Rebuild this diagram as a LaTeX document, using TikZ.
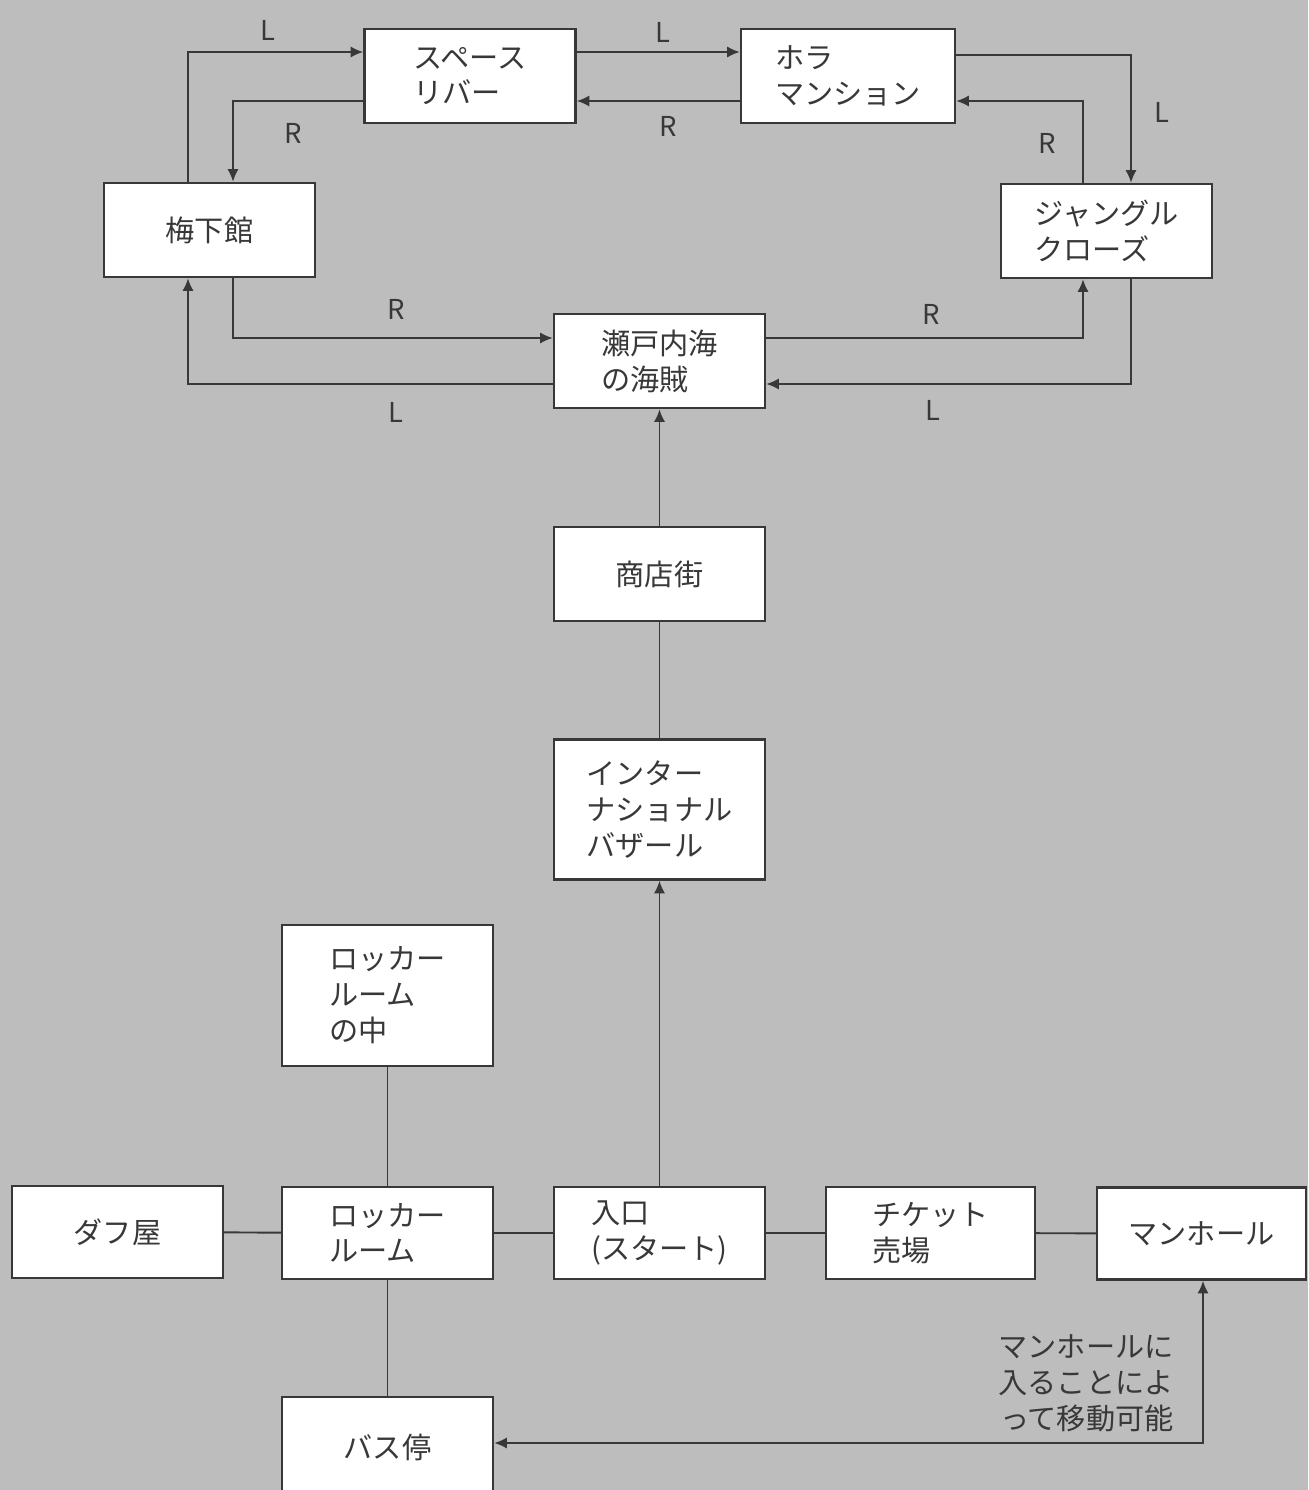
\documentclass[tikz,border=0pt]{standalone}
\usepackage{fontspec}
\setmainfont{Noto Sans CJK JP}
\usetikzlibrary{arrows.meta}
\definecolor{paper}{HTML}{BDBDBD}
\definecolor{ink}{HTML}{383838}
\newcommand{\roomfont}{\fontsize{8.3}{10.2}\selectfont}
\newcommand{\lrfont}{\fontsize{7.8}{9}\selectfont}

\begin{document}
\begin{tikzpicture}[
  room/.style={draw=ink,line width=0.7pt,fill=white,minimum width=2.11cm,minimum height=0.94cm,
    inner sep=0pt,align=left,font=\roomfont,text=ink},
  tallroom/.style={room,minimum height=1.40cm},
  lr/.style={font=\lrfont,text=ink},
  link/.style={ink,line width=0.55pt},
  arr/.style={link,-{Latex[length=3.6pt,width=3.2pt]}},
  both/.style={link,{Latex[length=3.6pt,width=3.2pt]}-{Latex[length=3.6pt,width=3.2pt]}}]
  \useasboundingbox (0,0) rectangle (13.08,-14.90);
  \fill[paper] (0,0) rectangle (13.08,-14.90);

  % upper ring
  \node[room] (space) at (4.70,-0.76) {スペース\\リバー};
  \node[room,minimum width=2.14cm] (hora) at (8.48,-0.76) {ホラ\\マンション};
  \node[room] (ume) at (2.095,-2.30) {梅下館};
  \node[room] (jungle) at (11.065,-2.31) {ジャングル\\クローズ};
  \node[room] (seto) at (6.595,-3.61) {瀬戸内海\\の海賊};

  % middle column
  \node[room] (shop) at (6.595,-5.74) {商店街};
  \node[tallroom] (bazar) at (6.595,-8.095) {インター\\ナショナル\\バザール};

  % bottom row
  \node[tallroom,minimum height=1.41cm] (lockin) at (3.875,-9.955) {ロッカー\\ルーム\\の中};
  \node[room,minimum height=0.92cm] (dafu) at (1.175,-12.32) {ダフ屋};
  \node[room,minimum height=0.92cm] (locker) at (3.875,-12.33) {ロッカー\\ルーム};
  \node[room,minimum height=0.92cm] (entry) at (6.595,-12.33) {入口\\(スタート)};
  \node[room,minimum height=0.92cm,minimum width=2.09cm] (ticket) at (9.305,-12.33) {チケット\\売場};
  \node[room,minimum height=0.92cm,minimum width=2.09cm] (manhole) at (12.015,-12.335) {マンホール};
  \node[room,minimum height=1.00cm] (bus) at (3.875,-14.47) {バス停};

  % ring connectors
  \draw[arr] ([xshift=-0.215cm]ume.north) |- ([yshift=0.24cm]space.west);
  \draw[arr] ([yshift=-0.25cm]space.west) -| ([xshift=0.235cm]ume.north);
  \draw[arr] ([yshift=0.24cm]space.east) -- ([yshift=0.24cm]hora.west);
  \draw[arr] ([yshift=-0.25cm]hora.west) -- ([yshift=-0.25cm]space.east);
  \draw[arr] ([yshift=0.21cm]hora.east) -| ([xshift=0.245cm]jungle.north);
  \draw[arr] ([xshift=-0.235cm]jungle.north) |- ([yshift=-0.25cm]hora.east);
  \draw[arr] ([xshift=0.235cm]ume.south) |- ([yshift=0.23cm]seto.west);
  \draw[arr] ([yshift=-0.23cm]seto.west) -| ([xshift=-0.215cm]ume.south);
  \draw[arr] ([yshift=0.23cm]seto.east) -| ([xshift=-0.235cm]jungle.south);
  \draw[arr] ([xshift=0.245cm]jungle.south) |- ([yshift=-0.23cm]seto.east);

  \node[lr] (l1) at (2.68,-0.30) {L};
  \node[lr] (r1) at (2.93,-1.33) {R};
  \node[lr] (l2) at (6.63,-0.32) {L};
  \node[lr] (r2) at (6.68,-1.26) {R};
  \node[lr] (l3) at (11.62,-1.12) {L};
  \node[lr] (r3) at (10.47,-1.43) {R};
  \node[lr] (r4) at (3.96,-3.09) {R};
  \node[lr] (l4) at (3.96,-4.12) {L};
  \node[lr] (r5) at (9.31,-3.14) {R};
  \node[lr] (l5) at (9.33,-4.10) {L};

  % column
  \draw[arr] (shop) -- (seto);
  \draw[link] (bazar) -- (shop);
  \draw[arr] (entry) -- (bazar);

  % row
  \draw[link] (dafu) -- (locker);
  \draw[link] (locker) -- (entry);
  \draw[link] (entry) -- (ticket);
  \draw[link] (ticket) -- (manhole);
  \draw[link] (lockin) -- (locker);
  \draw[link] (locker) -- (bus);
  \draw[both] ([yshift=0.04cm]bus.east) -| ([xshift=0.015cm]manhole.south);

  \node[font=\roomfont,text=ink,align=right,anchor=east] (note) at (11.86,-13.83)
    {マンホールに\\入ることによ\\って移動可能};
\end{tikzpicture}
\end{document}
